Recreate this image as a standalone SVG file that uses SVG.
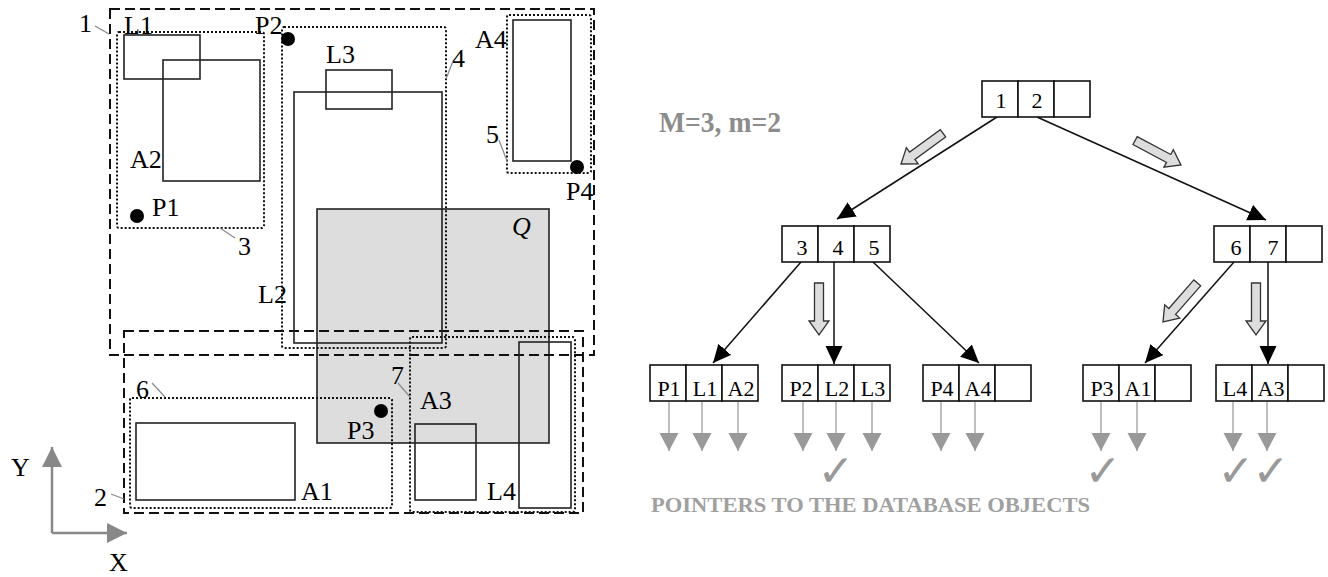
<svg xmlns="http://www.w3.org/2000/svg" width="1328" height="577" viewBox="0 0 1328 577">
<style>
.t{font-family:"Liberation Serif","Times New Roman",serif;fill:#000}
.lb{font-size:26px}
.ct{font-size:22px;text-anchor:middle}
.sol{fill:none;stroke:#222;stroke-width:1.6}
.dash{fill:none;stroke:#111;stroke-width:2;stroke-dasharray:10,5}
.dot{fill:none;stroke:#111;stroke-width:2;stroke-dasharray:2,2}
.lead{stroke:#888;stroke-width:1.2;fill:none}
.cell{fill:#fff;stroke:#111;stroke-width:1.6}
.edge{stroke:#111;stroke-width:1.5;fill:none;marker-end:url(#ah)}
.ptr{stroke:#aaa;stroke-width:1.5;fill:none;marker-end:url(#gh)}
.blk{fill:#ddd;stroke:#333;stroke-width:1.3}
.chk{font-family:"DejaVu Sans",sans-serif;font-size:44px;fill:#999;text-anchor:middle}
</style>
<defs>
<marker id="ah" markerUnits="userSpaceOnUse" markerWidth="20" markerHeight="19" refX="18" refY="8.5" orient="auto" viewBox="0 0 20 19"><path d="M0,0 L18,8.5 L0,17 z" fill="#000"/></marker>
<marker id="gh" markerUnits="userSpaceOnUse" markerWidth="20" markerHeight="21" refX="18" refY="9.5" orient="auto" viewBox="0 0 20 21"><path d="M0,0 L18,9.5 L0,19 z" fill="#999"/></marker>
<marker id="axh" markerUnits="userSpaceOnUse" markerWidth="22" markerHeight="22" refX="20" refY="10" orient="auto" viewBox="0 0 22 22"><path d="M0,0 L20,10 L0,20 z" fill="#888"/></marker>
<polygon id="barrow" points="-52,-4.5 -14,-4.5 -14,-10 0,0 -14,10 -14,4.5 -52,4.5"/>
</defs>

<!-- LEFT PANEL -->
<g id="query-Q"><rect x="317" y="209" width="232" height="234" fill="#ddd" stroke="#222" stroke-width="1.6"/>
<text class="t lb" x="512" y="235" font-style="italic">Q</text></g>

<g id="mbr-1"><rect class="dash" x="110" y="9" width="484" height="346"/><text class="t lb" x="79" y="32">1</text><line class="lead" x1="95" y1="26" x2="109" y2="34"/></g>
<g id="mbr-2"><rect class="dash" x="124" y="331" width="459" height="182"/><text class="t lb" x="94" y="506">2</text><line class="lead" x1="111" y1="494" x2="124" y2="499"/></g>
<g id="mbr-3"><rect class="dot" x="117" y="32" width="147" height="196" rx="2"/><text class="t lb" x="238" y="255">3</text><line class="lead" x1="220" y1="228" x2="235" y2="238"/></g>
<g id="mbr-4"><rect class="dot" x="282" y="27" width="164" height="321" rx="2"/><text class="t lb" x="452" y="67">4</text><line class="lead" x1="453" y1="61" x2="446" y2="79"/></g>
<g id="mbr-5"><rect class="dot" x="507" y="15" width="84" height="158" rx="2"/><text class="t lb" x="486" y="143">5</text><line class="lead" x1="499" y1="140" x2="507" y2="161"/></g>
<g id="mbr-6"><rect class="dot" x="130" y="398" width="262" height="110" rx="2"/><text class="t lb" x="136" y="398">6</text><line class="lead" x1="152" y1="383" x2="165" y2="397"/></g>
<g id="mbr-7"><rect class="dot" x="410" y="337" width="165" height="175" rx="2"/><text class="t lb" x="391" y="384">7</text><line class="lead" x1="398" y1="383" x2="410" y2="397"/></g>

<g id="obj-L1"><rect class="sol" x="124" y="35" width="76" height="44"/><text class="t lb" x="124" y="34">L1</text></g>
<g id="obj-A2"><rect class="sol" x="163" y="60" width="97" height="121"/><text class="t lb" x="130" y="168">A2</text></g>
<g id="obj-L3"><rect class="sol" x="326" y="70" width="66" height="39"/><text class="t lb" x="326" y="63">L3</text></g>
<g id="obj-L2"><rect class="sol" x="294" y="92" width="148" height="251"/><text class="t lb" x="258" y="303">L2</text></g>
<g id="obj-A4"><rect class="sol" x="513" y="20" width="58" height="141"/><text class="t lb" x="475" y="48">A4</text></g>
<g id="obj-A1"><rect class="sol" x="136" y="423" width="159" height="77"/><text class="t lb" x="301" y="500">A1</text></g>
<g id="obj-A3"><rect class="sol" x="415" y="424" width="61" height="76"/><text class="t lb" x="420" y="409">A3</text></g>
<g id="obj-L4"><rect class="sol" x="519" y="342" width="52" height="166"/><text class="t lb" x="487" y="500">L4</text></g>

<g id="obj-P1"><circle cx="137" cy="216" r="7" fill="#000"/><text class="t lb" x="152" y="216">P1</text></g>
<g id="obj-P2"><circle cx="288" cy="39" r="7" fill="#000"/><text class="t lb" x="255" y="34">P2</text></g>
<g id="obj-P3"><circle cx="381" cy="411" r="7" fill="#000"/><text class="t lb" x="347" y="439">P3</text></g>
<g id="obj-P4"><circle cx="577" cy="167" r="7" fill="#000"/><text class="t lb" x="566" y="200">P4</text></g>

<g id="axes">
<line x1="52" y1="533" x2="52" y2="447" stroke="#888" stroke-width="2.5" marker-end="url(#axh)"/>
<line x1="52" y1="533" x2="127" y2="533" stroke="#888" stroke-width="2.5" marker-end="url(#axh)"/>
<text class="t lb" x="11" y="476">Y</text>
<text class="t lb" x="109" y="571">X</text>
</g>

<!-- RIGHT PANEL -->
<text class="t" x="659" y="132" font-size="29" font-weight="bold" style="fill:#8c8c8c" textLength="122" lengthAdjust="spacingAndGlyphs">M=3, m=2</text>

<g id="connectors">
<line class="edge" x1="997" y1="117" x2="837" y2="219"/>
<line class="edge" x1="1037" y1="117" x2="1266" y2="220"/>
<line class="edge" x1="801" y1="262" x2="713" y2="363"/>
<line class="edge" x1="834" y1="262" x2="834" y2="364"/>
<line class="edge" x1="873" y1="262" x2="979" y2="363"/>
<line class="edge" x1="1234" y1="262" x2="1145" y2="363"/>
<line class="edge" x1="1268" y1="262" x2="1268" y2="364"/>
<use href="#barrow" class="blk" transform="translate(901,164) rotate(143.8)"/>
<use href="#barrow" class="blk" transform="translate(1181,165) rotate(28)"/>
<use href="#barrow" class="blk" transform="translate(819,335) rotate(90)"/>
<use href="#barrow" class="blk" transform="translate(1163,322) rotate(131.2)"/>
<use href="#barrow" class="blk" transform="translate(1256,335) rotate(90)"/>
<line class="ptr" x1="669" y1="402" x2="669" y2="451"/>
<line class="ptr" x1="702" y1="402" x2="702" y2="451"/>
<line class="ptr" x1="738" y1="402" x2="738" y2="451"/>
<line class="ptr" x1="803" y1="402" x2="803" y2="451"/>
<line class="ptr" x1="836" y1="402" x2="836" y2="451"/>
<line class="ptr" x1="872" y1="402" x2="872" y2="451"/>
<line class="ptr" x1="941" y1="402" x2="941" y2="451"/>
<line class="ptr" x1="975" y1="402" x2="975" y2="451"/>
<line class="ptr" x1="1101" y1="402" x2="1101" y2="451"/>
<line class="ptr" x1="1137" y1="402" x2="1137" y2="451"/>
<line class="ptr" x1="1233" y1="402" x2="1233" y2="451"/>
<line class="ptr" x1="1267" y1="402" x2="1267" y2="451"/>
</g>

<g id="node-root"><rect class="cell" x="982" y="81" width="36" height="36"/><rect class="cell" x="1018" y="81" width="36" height="36"/><rect class="cell" x="1054" y="81" width="36" height="36"/>
<text class="t ct" x="1001" y="108">1</text><text class="t ct" x="1037" y="108">2</text></g>
<g id="node-345"><rect class="cell" x="782" y="226" width="36" height="36"/><rect class="cell" x="818" y="226" width="36" height="36"/><rect class="cell" x="854" y="226" width="36" height="36"/>
<text class="t ct" x="802" y="255">3</text><text class="t ct" x="838" y="255">4</text><text class="t ct" x="874" y="255">5</text></g>
<g id="node-67"><rect class="cell" x="1214" y="226" width="36" height="36"/><rect class="cell" x="1250" y="226" width="36" height="36"/><rect class="cell" x="1286" y="226" width="36" height="36"/>
<text class="t ct" x="1236" y="255">6</text><text class="t ct" x="1273" y="255">7</text></g>

<g id="leaf-3"><rect class="cell" x="650" y="365" width="36" height="36"/><rect class="cell" x="686" y="365" width="36" height="36"/><rect class="cell" x="722" y="365" width="36" height="36"/>
<text class="t ct" x="669" y="396">P1</text><text class="t ct" x="705" y="396">L1</text><text class="t ct" x="741" y="396">A2</text></g>
<g id="leaf-4"><rect class="cell" x="782" y="365" width="36" height="36"/><rect class="cell" x="818" y="365" width="36" height="36"/><rect class="cell" x="854" y="365" width="36" height="36"/>
<text class="t ct" x="801" y="396">P2</text><text class="t ct" x="837" y="396">L2</text><text class="t ct" x="873" y="396">L3</text></g>
<g id="leaf-5"><rect class="cell" x="923" y="365" width="36" height="36"/><rect class="cell" x="959" y="365" width="36" height="36"/><rect class="cell" x="995" y="365" width="36" height="36"/>
<text class="t ct" x="942" y="396">P4</text><text class="t ct" x="978" y="396">A4</text></g>
<g id="leaf-6"><rect class="cell" x="1083" y="365" width="36" height="36"/><rect class="cell" x="1119" y="365" width="36" height="36"/><rect class="cell" x="1155" y="365" width="36" height="36"/>
<text class="t ct" x="1102" y="396">P3</text><text class="t ct" x="1138" y="396">A1</text></g>
<g id="leaf-7"><rect class="cell" x="1216" y="365" width="36" height="36"/><rect class="cell" x="1252" y="365" width="36" height="36"/><rect class="cell" x="1288" y="365" width="36" height="36"/>
<text class="t ct" x="1235" y="396">L4</text><text class="t ct" x="1271" y="396">A3</text></g>

<g id="checks">
<text class="chk" x="836" y="486">✓</text>
<text class="chk" x="1103" y="486">✓</text>
<text class="chk" x="1236" y="486">✓</text>
<text class="chk" x="1271" y="486">✓</text>
</g>
<text class="t" x="651" y="512" font-size="20" font-weight="bold" style="fill:#a0a0a0" textLength="439" lengthAdjust="spacingAndGlyphs">POINTERS TO THE DATABASE OBJECTS</text>
</svg>
